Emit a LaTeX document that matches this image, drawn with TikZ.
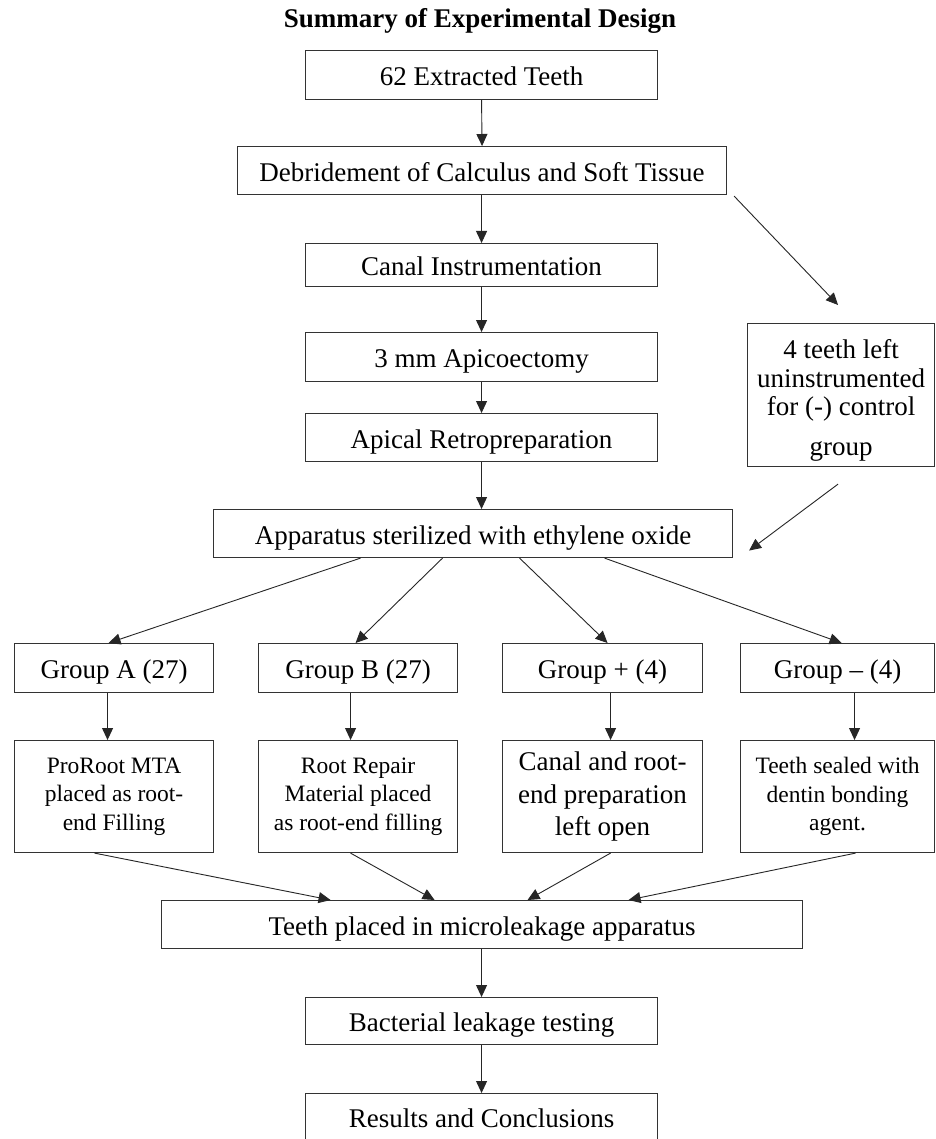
\documentclass[tikz,border=0pt]{standalone}
\usepackage{fontspec}
\setmainfont{Liberation Serif}
\usetikzlibrary{arrows.meta,calc}
\newcommand\fsbig{\fontsize{27pt}{32.4pt}\selectfont}
\newcommand\fssmall{\fontsize{23.5pt}{28.3pt}\selectfont}
\newcommand\fsctrl{\fontsize{27pt}{28.5pt}\selectfont}
\begin{document}
\begin{tikzpicture}[x=1pt,y=1pt,
  bx/.style={draw=black!80, line width=1.1pt, inner sep=0pt, anchor=north west,
             font=\fsbig, text height=21pt, text depth=0pt},
  mbx/.style={draw=black!80, line width=1.1pt, inner sep=0pt, anchor=north west, align=center},
  arr/.style={draw=black!85, line width=0.9pt, -{Triangle[length=12pt,width=11pt]}}]
\fill[white] (0,0) rectangle (935,-1139);
\useasboundingbox (0,0) rectangle (935,-1139);

% title
\node[font=\fsbig\bfseries, anchor=base, inner sep=0pt] (title) at (480,-28) {Summary of Experimental Design};

% main column
\node[bx, minimum width=352pt, minimum height=49pt] (b1) at (305,-50) {62 Extracted Teeth};
\node[bx, minimum width=489pt, minimum height=48pt] (b2) at (237,-146) {Debridement of Calculus and Soft Tissue};
\node[bx, minimum width=352pt, minimum height=43pt] (b3) at (305,-243) {Canal Instrumentation};
\node[bx, minimum width=352pt, minimum height=49pt] (b4) at (305,-332) {3 mm Apicoectomy};
\node[bx, minimum width=352pt, minimum height=48pt] (b5) at (305,-413) {Apical Retropreparation};
\node[bx, minimum width=519pt, minimum height=48pt] (b6) at (213,-509) {Apparatus sterilized with ethylene oxide};

% control box
\node[mbx, minimum width=187pt, minimum height=143pt] (ctrl) at (747,-323) {};
\node[font=\fsctrl, align=center, inner sep=0pt, anchor=north] (ctrlt) at ($(ctrl.north)+(0,-16.6)$)
  {4 teeth left\\uninstrumented\\for (-) control\\[11pt]group};

% groups
\node[bx, minimum width=199pt, minimum height=49pt] (ga) at (14,-643) {Group A (27)};
\node[bx, minimum width=199pt, minimum height=49pt] (gb) at (258,-643) {Group B (27)};
\node[bx, minimum width=200pt, minimum height=49pt] (gp) at (502,-643) {Group + (4)};
\node[bx, minimum width=194pt, minimum height=49pt] (gm) at (740,-643) {Group – (4)};

% treatments
\node[mbx, font=\fssmall, minimum width=199pt, minimum height=112pt] (la) at (14,-740)
  {ProRoot MTA\\placed as root-\\end Filling};
\node[mbx, font=\fssmall, minimum width=199pt, minimum height=112pt] (lb) at (258,-740)
  {Root Repair\\Material placed\\as root-end filling};
\node[mbx, font=\fsbig, minimum width=200pt, minimum height=112pt] (lp) at (502,-740)
  {Canal and root-\\end preparation\\left open};
\node[mbx, font=\fssmall, minimum width=194pt, minimum height=112pt] (lm) at (740,-740)
  {Teeth sealed with\\dentin bonding\\agent.};

% bottom column
\node[bx, minimum width=641pt, minimum height=48pt] (tp) at (161,-900) {Teeth placed in microleakage apparatus};
\node[bx, minimum width=352pt, minimum height=47pt] (bt) at (305,-997) {Bacterial leakage testing};
\node[bx, minimum width=352pt, minimum height=47pt] (rc) at (305,-1093) {Results and Conclusions};

% free ends of the control connectors
\coordinate (c1) at ($(ctrl.north)+(-3,18)$);
\coordinate (c2) at ($(ctrl.south)+(-3,-17)$);
\coordinate (c3) at ($(b6.east)+(16,-17)$);

% connectors
\draw[arr] (b1.south) -- (b2.north);
\draw[arr] (b2.south -| b1.south) -- (b3.north);
\draw[arr] (b3.south) -- (b4.north);
\draw[arr] (b4.south) -- (b5.north);
\draw[arr] (b5.south) -- (b5.south |- b6.north);
\draw[arr] ($(b2.south east)+(7,-1)$) -- (c1);
\draw[arr] (c2) -- (c3);

\draw[arr] ([xshift=-112.5pt]b6.south) -- ([xshift=-5.5pt]ga.north);
\draw[arr] ([xshift=-30.5pt]b6.south) -- ([xshift=-2.5pt]gb.north);
\draw[arr] ([xshift=46.5pt]b6.south) -- ([xshift=5pt]gp.north);
\draw[arr] ([xshift=131.5pt]b6.south) -- ([xshift=4pt]gm.north);

\draw[arr] ([xshift=-6.5pt]ga.south) -- ([xshift=-6.5pt]la.north);
\draw[arr] ([xshift=-7.5pt]gb.south) -- ([xshift=-7.5pt]lb.north);
\draw[arr] ([xshift=8pt]gp.south) -- ([xshift=8pt]lp.north);
\draw[arr] ([xshift=17pt]gm.south) -- ([xshift=17pt]lm.north);

\draw[arr] ([xshift=-19.5pt]la.south) -- ([xshift=-151.5pt]tp.north);
\draw[arr] ([xshift=-7.5pt]lb.south) -- ([xshift=-47.5pt]tp.north);
\draw[arr] ([xshift=8pt]lp.south) -- ([xshift=45.5pt]tp.north);
\draw[arr] ([xshift=18pt]lm.south) -- ([xshift=146.5pt]tp.north);

\draw[arr] (tp.south -| bt.north) -- (bt.north);
\draw[arr] (bt.south) -- (rc.north);
\end{tikzpicture}
\end{document}
